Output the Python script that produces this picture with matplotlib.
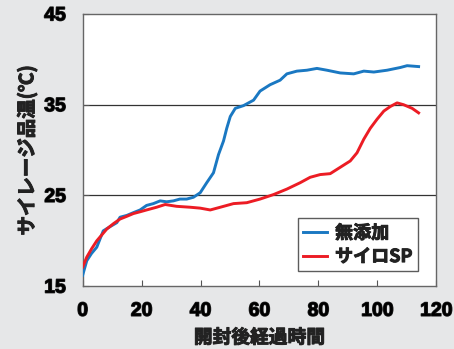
import matplotlib.pyplot as plt
import matplotlib.patheffects as pe

plt.rcParams['font.family'] = ['Liberation Sans', 'Noto Sans CJK JP', 'DejaVu Sans']
plt.rcParams['font.weight'] = 'bold'

# 無添加 (control)
vdCtrlHours = [0, 1.4, 3.0, 4.8, 7.0, 9.5, 11.6, 12.7, 15.0, 17.2, 19.5, 21.7, 24.0, 26.3,
               28.5, 30.8, 33.0, 35.3, 37.6, 39.9, 42.1, 44.4, 46.1, 47.8, 48.9, 50.1,
               51.8, 54.6, 58.0, 60.2, 63.6, 67.0, 69.3, 72.7, 76.1, 79.5, 82.9, 87.4,
               92.0, 95.4, 98.8, 103.3, 107.8, 110.1, 114.0]
vdCtrlTemp = [16.2, 17.8, 18.6, 19.3, 21.1, 21.6, 22.0, 22.6, 22.8, 23.1, 23.4, 23.9, 24.1, 24.4,
              24.3, 24.4, 24.6, 24.6, 24.8, 25.3, 26.4, 27.5, 29.5, 31.0, 32.4, 33.7,
              34.6, 34.9, 35.5, 36.5, 37.2, 37.7, 38.4, 38.7, 38.8, 39.0, 38.8, 38.5,
              38.4, 38.7, 38.6, 38.8, 39.1, 39.3, 39.2]

# サイロSP
vdSPHours = [0, 1.4, 3.0, 4.8, 8.2, 10.5, 12.7, 15.0, 17.2, 19.5, 21.7, 25.1, 28.0, 31.9, 36.5,
             39.9, 43.3, 46.7, 51.2, 55.7, 60.2, 64.8, 69.3, 73.8, 77.2, 80.6, 84.0,
             87.4, 90.8, 93.1, 95.4, 97.6, 99.9, 102.2, 104.4, 106.7, 108.9, 111.8, 114.0]
vdSPTemp = [17.1, 18.2, 19.1, 20.0, 21.3, 21.9, 22.4, 22.7, 23.0, 23.2, 23.4, 23.7, 24.0, 23.8, 23.7,
            23.6, 23.4, 23.7, 24.1, 24.2, 24.6, 25.1, 25.7, 26.4, 27.0, 27.3, 27.4,
            28.1, 28.8, 29.7, 31.2, 32.4, 33.4, 34.3, 34.8, 35.2, 35.0, 34.6, 34.1]

vsLabels = ['無添加', 'サイロSP']
viXTicks = [0, 20, 40, 60, 80, 100, 120]
viYTicks = [15, 25, 35, 45]

fig, ax = plt.subplots(figsize=(4.54, 3.49), dpi=100)
fig.patch.set_facecolor('#e6e7e8')
ax.set_facecolor('white')
fig.subplots_adjust(left=0.182, right=0.961, top=0.960, bottom=0.180)

# Horizontal reference lines at 25 and 35
for y in viYTicks[1:-1]:
    ax.axhline(y, color='#333333', lw=0.9, zorder=1)

ax.plot(vdCtrlHours, vdCtrlTemp, color='#1a78c2', lw=2.1, label=vsLabels[0], zorder=3)
ax.plot(vdSPHours, vdSPTemp, color='#ec1c24', lw=2.1, label=vsLabels[1], zorder=3)

ax.set_xlim(0, 120)
ax.set_ylim(15, 45)
ax.set_xticks(viXTicks)
ax.set_yticks(viYTicks)
ax.tick_params(direction='in', length=4, width=0.8, color='#555555', labelsize=14, pad=12)
for s in ax.spines.values():
    s.set_color('#666666')
    s.set_linewidth(1.0)

# thicken the glyphs a little, the original uses a heavy gothic face
heavy = [pe.withStroke(linewidth=1.0, foreground='#222222')]
heavyJp = [pe.withStroke(linewidth=0.7, foreground='#222222')]
for lab in ax.get_xticklabels() + ax.get_yticklabels():
    lab.set_path_effects(heavy)

jpFont = ['Noto Sans CJK JP', 'DejaVu Sans']
ax.set_xlabel('開封後経過時間', fontsize=13.5, fontweight='bold', family=jpFont, labelpad=6,
              color='#222222', path_effects=heavyJp)
ax.set_ylabel('サイレージ品温(℃)', fontsize=14, fontweight='bold', family=jpFont, labelpad=5,
              color='#222222', path_effects=heavyJp)

leg = ax.legend(loc='upper left', bbox_to_anchor=(0.609, 0.25), frameon=True, fancybox=False,
                handlelength=1.3, handletextpad=0.45, borderpad=0.3, labelspacing=0.25,
                borderaxespad=0,
                prop={'family': jpFont, 'weight': 'bold', 'size': 13})
leg.get_frame().set_edgecolor('#333333')
leg.get_frame().set_linewidth(1.0)
for t in leg.get_texts():
    t.set_color('#222222')
    t.set_path_effects(heavyJp)

fig.savefig('out.png', dpi=100, facecolor=fig.get_facecolor())
